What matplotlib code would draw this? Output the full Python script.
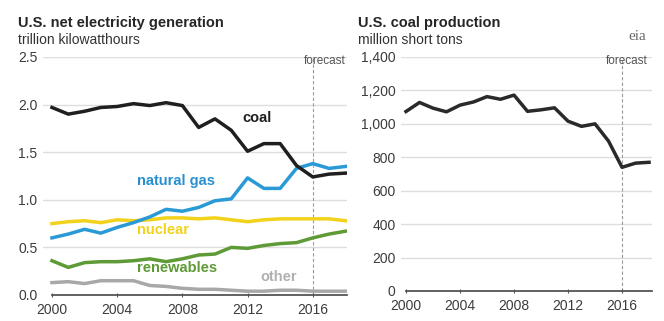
import matplotlib
matplotlib.use("Agg")
import matplotlib.pyplot as plt

plt.rcParams['font.family'] = ['Liberation Sans', 'DejaVu Sans']

years = list(range(2000, 2019))

# U.S. net electricity generation, trillion kWh
coal = [1.97, 1.90, 1.93, 1.97, 1.98, 2.01, 1.99, 2.02, 1.99, 1.76, 1.85, 1.73,
        1.51, 1.59, 1.59, 1.36, 1.24, 1.27, 1.28]
natural_gas = [0.60, 0.64, 0.69, 0.65, 0.71, 0.76, 0.82, 0.90, 0.88, 0.92, 0.99, 1.01,
               1.23, 1.12, 1.12, 1.33, 1.38, 1.33, 1.35]
nuclear = [0.75, 0.77, 0.78, 0.76, 0.79, 0.78, 0.79, 0.81, 0.81, 0.80, 0.81, 0.79,
           0.77, 0.79, 0.80, 0.80, 0.80, 0.80, 0.78]
renewables = [0.36, 0.29, 0.34, 0.35, 0.35, 0.36, 0.38, 0.35, 0.38, 0.42, 0.43, 0.50,
              0.49, 0.52, 0.54, 0.55, 0.60, 0.64, 0.67]
other = [0.13, 0.14, 0.12, 0.15, 0.15, 0.15, 0.10, 0.09, 0.07, 0.06, 0.06, 0.05,
         0.04, 0.04, 0.05, 0.05, 0.04, 0.04, 0.04]

# U.S. coal production, million short tons
coal_production = [1074, 1128, 1094, 1072, 1112, 1131, 1163, 1147, 1172, 1075, 1084,
                   1096, 1016, 985, 1000, 897, 740, 765, 770]

gen_yticks = [0.0, 0.5, 1.0, 1.5, 2.0, 2.5]
gen_ytick_labels = ["0.0", "0.5", "1.0", "1.5", "2.0", "2.5"]
prod_yticks = [0, 200, 400, 600, 800, 1000, 1200, 1400]
prod_ytick_labels = ["0", "200", "400", "600", "800", "1,000", "1,200", "1,400"]
xticks = [2000, 2004, 2008, 2012, 2016]
forecast_year = 2016

W, H = 664, 321
fig = plt.figure(figsize=(W / 100, H / 100), dpi=100)


def px_axes(x0, y0, x1, y1):
    return fig.add_axes([x0 / W, 1 - y1 / H, (x1 - x0) / W, (y1 - y0) / H])


grid_c = "#dedede"
axis_c = "#555555"
tick_c = "#3c3c3c"
tick_fs = 10


def style(ax, yticks, ylabels, xlim, ylim):
    ax.set_xlim(*xlim)
    ax.set_ylim(*ylim)
    ax.set_yticks(yticks)
    ax.set_yticklabels(ylabels)
    ax.set_xticks(xticks)
    ax.set_xticklabels([str(x) for x in xticks])
    for s in ["top", "right", "left"]:
        ax.spines[s].set_visible(False)
    ax.spines["bottom"].set_color(axis_c)
    ax.spines["bottom"].set_linewidth(1.3)
    ax.spines["bottom"].set_bounds(2000, xlim[1])
    ax.tick_params(axis="y", length=0, labelsize=tick_fs, labelcolor=tick_c, pad=4)
    ax.tick_params(axis="x", length=3, direction="inout", color=axis_c,
                   labelsize=tick_fs, labelcolor=tick_c, pad=4)
    for yv in yticks[1:]:
        ax.axhline(yv, color=grid_c, lw=1.0, zorder=0)
    ax.axvline(forecast_year, color="#9a9a9a", lw=0.8, ls=(0, (3, 2)), zorder=1)
    ax.patch.set_alpha(0)


# Left panel: electricity generation by source
ax1 = px_axes(43, 57, 347, 295)
style(ax1, gen_yticks, gen_ytick_labels, (1999.45, 2018.1), (0, 2.5))
lw = 2.5
ax1.plot(years, other, color="#a8a8a8", lw=lw, zorder=3)
ax1.plot(years, renewables, color="#5e9a36", lw=lw, zorder=3)
ax1.plot(years, nuclear, color="#f2d21b", lw=lw, zorder=3)
ax1.plot(years, natural_gas, color="#2a9ad6", lw=lw, zorder=4)
ax1.plot(years, coal, color="#1f1f1f", lw=lw, zorder=5)

label_fs = 10.5
ax1.text(2012.6, 1.86, "coal", color="#1f1f1f", fontsize=label_fs, fontweight="bold",
         ha="center", va="center")
ax1.text(2005.2, 1.20, "natural gas", color="#2a8fd0", fontsize=label_fs,
         fontweight="bold", ha="left", va="center")
ax1.text(2005.2, 0.68, "nuclear", color="#f2d21b", fontsize=label_fs,
         fontweight="bold", ha="left", va="center")
ax1.text(2005.2, 0.28, "renewables", color="#5e9a36", fontsize=label_fs,
         fontweight="bold", ha="left", va="center")
ax1.text(2012.8, 0.19, "other", color="#b0b0b0", fontsize=label_fs,
         fontweight="bold", ha="left", va="center")

# Right panel: coal production
ax2 = px_axes(401, 57, 652, 291)
style(ax2, prod_yticks, prod_ytick_labels, (1999.63, 2018.22), (0, 1400))
ax2.plot(years, coal_production, color="#2a2a2a", lw=lw, zorder=5)

# Titles, units, forecast markers
fig.text(18 / W, 1 - 23 / H, "U.S. net electricity generation", fontsize=10.5,
         fontweight="bold", color="#262626", va="center", ha="left")
fig.text(18 / W, 1 - 40 / H, "trillion kilowatthours", fontsize=10,
         color="#333333", va="center", ha="left")
fig.text(358 / W, 1 - 23 / H, "U.S. coal production", fontsize=10.5,
         fontweight="bold", color="#262626", va="center", ha="left")
fig.text(358 / W, 1 - 40 / H, "million short tons", fontsize=10,
         color="#333333", va="center", ha="left")
fig.text(346 / W, 1 - 61 / H, "forecast", fontsize=8.5, color="#555555",
         va="center", ha="right")
fig.text(648 / W, 1 - 61 / H, "forecast", fontsize=8.5, color="#555555",
         va="center", ha="right")
fig.text(637 / W, 1 - 36 / H, "eia", fontsize=11, color="#6a6a6a",
         va="center", ha="center", family="Liberation Serif")

fig.savefig("out.png", dpi=100)
